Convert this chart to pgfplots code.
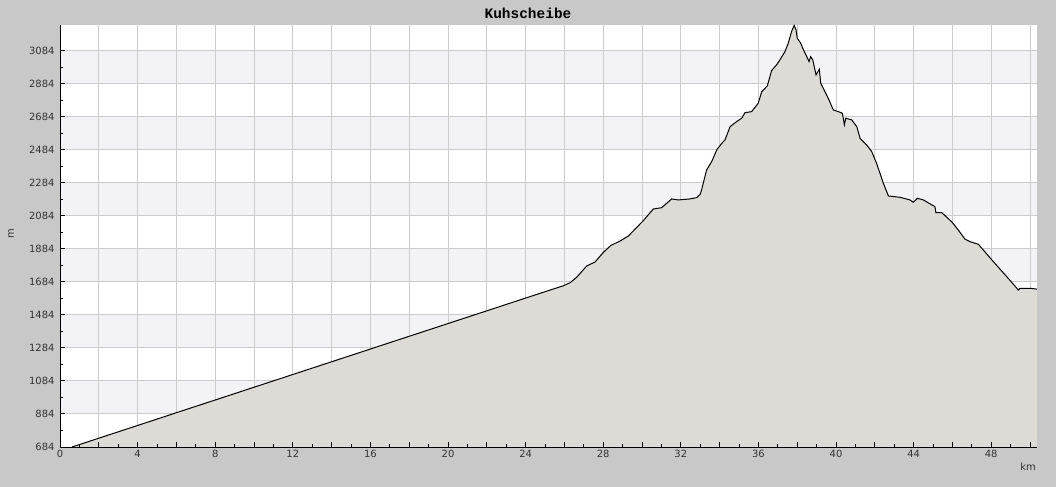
\documentclass[border=0pt]{standalone}
\usepackage{fontspec}
\setmainfont{DejaVu Sans}
\newfontfamily\titlefont{Liberation Mono}
\usepackage{pgfplots}
\pgfplotsset{compat=1.18}
\usepackage{pgfplotstable}

\definecolor{bgc}{HTML}{C8C8C8}
\definecolor{bandc}{HTML}{F3F2F5}
\definecolor{gridc}{HTML}{CBCBCB}
\definecolor{fillc}{HTML}{DCDBD6}
\definecolor{tickc}{HTML}{333333}

% elevation profile, km / m
\pgfplotstableread{
km    m
0.62  684
25.0  1625
25.26 1635
25.95 1661
26.3  1680
26.63 1712
27.15 1781
27.58 1805
28.0  1862
28.4  1906
28.87 1932
29.3  1963
30.07 2056
30.58 2126
31.01 2134
31.53 2187
31.87 2181
32.47 2187
32.82 2195
33.0  2215
33.07 2241
33.33 2363
33.59 2413
33.85 2484
34.11 2524
34.28 2545
34.54 2625
34.88 2656
35.14 2676
35.31 2710
35.65 2716
35.99 2767
36.17 2837
36.46 2872
36.68 2965
36.94 3000
37.11 3030
37.37 3080
37.54 3131
37.71 3202
37.84 3238
37.94 3211
38.0  3161
38.18 3131
38.32 3090
38.45 3060
38.61 3019
38.69 3049
38.8  3030
38.97 2939
39.14 2973
39.21 2888
39.38 2848
39.6  2797
39.86 2726
40.12 2716
40.33 2706
40.43 2636
40.5  2676
40.81 2666
41.07 2625
41.24 2554
41.58 2514
41.84 2474
42.1  2400
42.44 2282
42.7  2205
43.3  2197
43.81 2181
43.98 2167
44.19 2191
44.5  2181
45.1  2140
45.15 2104
45.45 2104
45.96 2049
46.3  1999
46.65 1943
46.91 1928
47.34 1912
48.11 1807
48.8  1716
49.4  1635
49.48 1645
50.09 1645
50.36 1640
}\profile

\begin{document}
\begin{tikzpicture}
\fill[bgc] (0,0) rectangle (1056bp,487bp);
\begin{axis}[
    at={(60bp,40bp)}, anchor=south west,
    scale only axis, width=977bp, height=422bp,
    xmin=0, xmax=50.36, ymin=684, ymax=3241,
    axis x line=bottom, axis y line=left,
    axis line style={-, black, line width=1bp},
    axis background/.style={fill=white},
    axis on top,
    xtick={0,2,...,50},
    xticklabels={0,,4,,8,,12,,16,,20,,24,,28,,32,,36,,40,,44,,48,},
    ytick={684,884,...,3084},
    minor x tick num=1, minor y tick num=1,
    tick align=inside,
    major tick length=5bp, minor tick length=3bp,
    tick style={black, line width=1bp},
    ticklabel style={font=\fontsize{10}{12}\selectfont, text=tickc},
    /pgf/number format/assume math mode=true,
    /pgf/number format/1000 sep={},
    yticklabel style={xshift=-2bp},
]
% alternating bands
\fill[bandc] (axis cs:0,884) rectangle (axis cs:50.36,1084);
\fill[bandc] (axis cs:0,1284) rectangle (axis cs:50.36,1484);
\fill[bandc] (axis cs:0,1684) rectangle (axis cs:50.36,1884);
\fill[bandc] (axis cs:0,2084) rectangle (axis cs:50.36,2284);
\fill[bandc] (axis cs:0,2484) rectangle (axis cs:50.36,2684);
\fill[bandc] (axis cs:0,2884) rectangle (axis cs:50.36,3084);
% grid
\pgfplotsinvokeforeach{2,4,...,50}{
  \draw[gridc, line width=1bp] (axis cs:#1,684) -- (axis cs:#1,3241);
}
\pgfplotsinvokeforeach{884,1084,...,3084}{
  \draw[gridc, line width=1bp] (axis cs:0,#1) -- (axis cs:50.36,#1);
}
% profile
\addplot[draw=none, fill=fillc] table[x=km, y=m] {\profile} \closedcycle;
\addplot[black, line width=1bp] table[x=km, y=m] {\profile};
\end{axis}
\node[anchor=base, font=\titlefont\bfseries\fontsize{14.5}{16}\selectfont] at (528bp,468bp) {Kuhscheibe};
\node[font=\fontsize{10}{12}\selectfont, text=tickc] at (1028bp,20bp) {km};
\node[rotate=90, font=\fontsize{10}{12}\selectfont, text=tickc] at (11bp,253bp) {m};
\pgfresetboundingbox
\path[use as bounding box] (0,0) rectangle (1056bp,487bp);
\end{tikzpicture}
\end{document}
